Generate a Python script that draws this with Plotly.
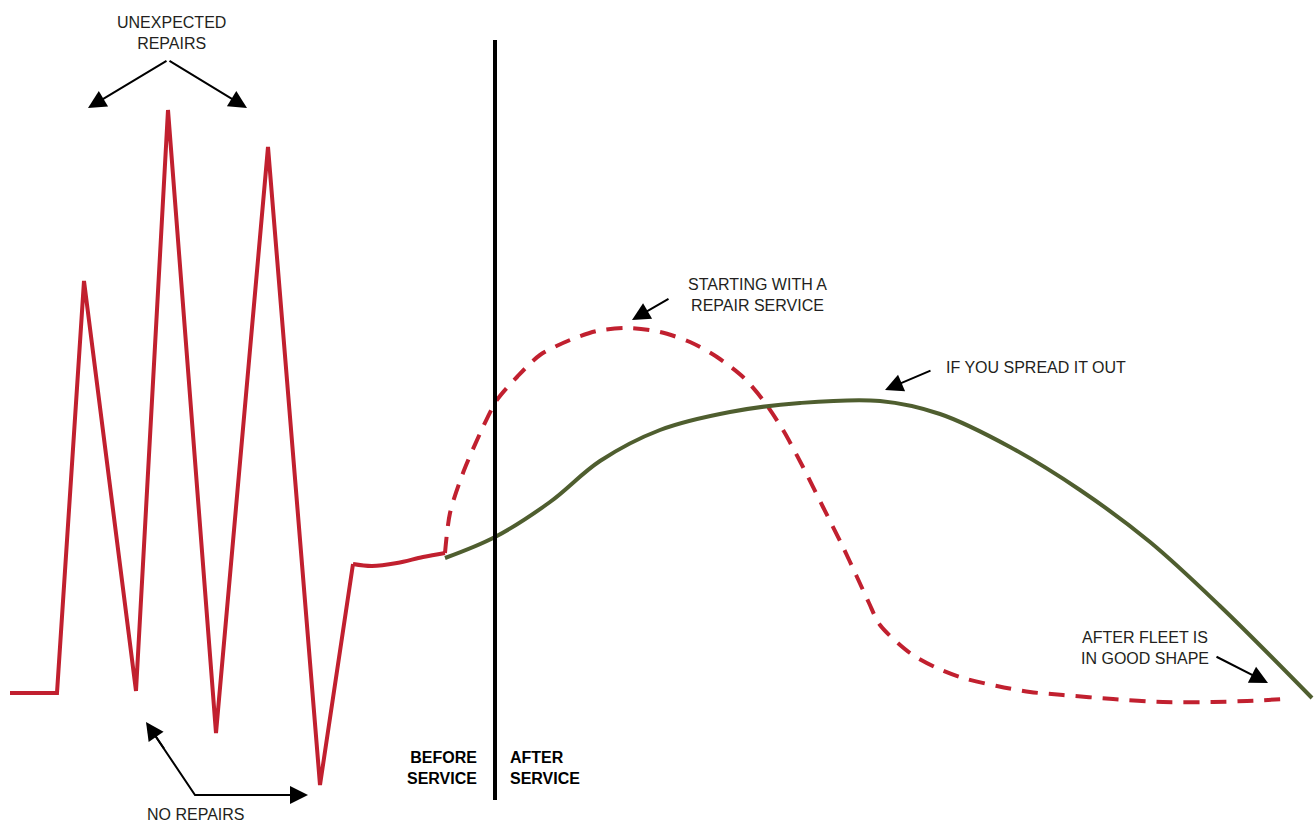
import plotly.graph_objects as go

# Conceptual chart: horizontal position = time, vertical = repair cost (arbitrary units, 0 = chart bottom)
H = 823
# Red solid: erratic repairs before service (spikes, then a gentle arc)
spikes_x = [10, 57, 84, 136, 168, 216, 268, 320, 353]
spikes_y = [130, 130, 542, 132, 713, 90, 676, 38, 259]
arc_x = [353, 372, 397, 423, 445]
arc_y = [259, 257, 260, 266, 270]
# Red dashed: starting with a repair service
repair_x = [445, 450, 463, 483, 497, 517, 540, 570, 597, 627, 660, 690, 717, 743, 763, 783, 803, 823,
            843, 857, 869, 880, 910, 937, 963, 997, 1030, 1063, 1113, 1163, 1213, 1247, 1285]
repair_y = [270, 310, 350, 396, 423, 446, 468, 483, 492, 495, 491, 481, 466, 446, 423, 393, 356, 316,
            276, 246, 220, 198, 170, 155, 145, 137, 131, 128, 124, 121, 121, 122, 124]
# Green: spread it out
spread_x = [445, 495, 550, 600, 660, 730, 800, 880, 940, 1010, 1080, 1150, 1220, 1312]
spread_y = [265, 286, 321, 362, 393, 411, 420, 422, 409, 376, 333, 281, 217, 125]
divider_x = [495, 495]
divider_y = [23, 783]

RED = "#c1202f"
GREEN = "#4f5e2f"
INK = "#231f20"
FONT = "Liberation Sans, Arial, sans-serif"

fig = go.Figure()
fig.add_trace(go.Scatter(x=spikes_x, y=spikes_y, mode="lines",
                         line=dict(color=RED, width=4, shape="linear"), hoverinfo="skip"))
fig.add_trace(go.Scatter(x=arc_x, y=arc_y, mode="lines",
                         line=dict(color=RED, width=4, shape="spline", smoothing=1), hoverinfo="skip"))
fig.add_trace(go.Scatter(x=repair_x, y=repair_y, mode="lines",
                         line=dict(color=RED, width=4, dash="16px,11px", shape="spline", smoothing=0.8), hoverinfo="skip"))
fig.add_trace(go.Scatter(x=spread_x, y=spread_y, mode="lines",
                         line=dict(color=GREEN, width=4, shape="spline", smoothing=1), hoverinfo="skip"))
fig.add_trace(go.Scatter(x=divider_x, y=divider_y, mode="lines",
                         line=dict(color="black", width=4), hoverinfo="skip"))
# elbow for "no repairs" pointer
fig.add_trace(go.Scatter(x=[150, 195, 298], y=[H - 728, H - 795, H - 795], mode="lines",
                         line=dict(color="black", width=2), hoverinfo="skip"))

def text(x, y, s, xanchor="center", bold=False):
    fig.add_annotation(x=x, y=H - y, text=s, showarrow=False, xanchor=xanchor, yanchor="middle",
                       font=dict(family=FONT, size=16, color=INK if not bold else "black",
                                 weight="bold" if bold else "normal"),
                       align={"center": "center", "right": "right", "left": "left"}[xanchor])

def arrow(x0, y0, x1, y1):
    fig.add_annotation(x=x1, y=H - y1, ax=x0, ay=H - y0, axref="x", ayref="y", xref="x", yref="y",
                       text="", showarrow=True, arrowhead=2, arrowsize=1.8, arrowwidth=2,
                       arrowcolor="black", standoff=0, startstandoff=0)

text(171, 33, "UNEXPECTED<br>REPAIRS")
arrow(168, 60, 88, 108)
arrow(168, 60, 247, 108)
text(196, 814, "NO REPAIRS")
arrow(165, 750, 146, 722)
arrow(280, 795, 308, 795)
text(479, 768, "BEFORE<br>SERVICE", xanchor="right", bold=True)
text(508, 768, "AFTER<br>SERVICE", xanchor="left", bold=True)
text(757, 295, "STARTING WITH A<br>REPAIR SERVICE")
arrow(670, 298, 632, 320)
text(944, 367, "IF YOU SPREAD IT OUT", xanchor="left")
arrow(932, 370, 885, 390)
text(1145, 648, "AFTER FLEET IS<br>IN GOOD SHAPE")
arrow(1215, 656, 1268, 683)

fig.update_layout(width=1315, height=823, margin=dict(l=0, r=0, t=0, b=0),
                  paper_bgcolor="white", plot_bgcolor="white", showlegend=False,
                  xaxis=dict(range=[0, 1315], visible=False, fixedrange=True),
                  yaxis=dict(range=[0, H], visible=False, fixedrange=True))
fig.write_html("out.html", config={"displayModeBar": False},
               post_script="document.body.style.margin='0';document.body.style.overflow='hidden';")
